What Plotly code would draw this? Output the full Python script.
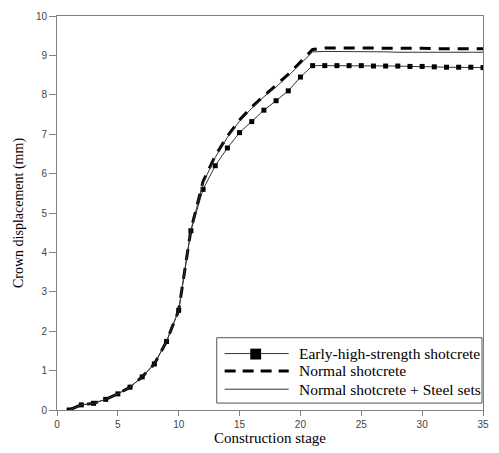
import plotly.graph_objects as go

# Construction stages 1..35
stages = list(range(1, 36))

# Crown displacement (mm) per stage
early_high = [0.00, 0.13, 0.17, 0.27, 0.41, 0.58, 0.84, 1.17, 1.74, 2.53,
              4.55, 5.60, 6.20, 6.65, 7.04, 7.32, 7.61, 7.85, 8.10, 8.45,
              8.74, 8.74, 8.74, 8.74, 8.74, 8.73, 8.73, 8.73, 8.72, 8.72,
              8.71, 8.70, 8.70, 8.70, 8.69]
normal = [0.00, 0.13, 0.17, 0.27, 0.41, 0.58, 0.84, 1.17, 1.74, 2.53,
          4.57, 5.80, 6.45, 6.95, 7.36, 7.69, 7.97, 8.24, 8.52, 8.83,
          9.15, 9.19, 9.19, 9.19, 9.19, 9.19, 9.18, 9.18, 9.18, 9.18,
          9.17, 9.17, 9.17, 9.17, 9.17]
steel_sets = [0.00, 0.13, 0.17, 0.27, 0.41, 0.58, 0.84, 1.17, 1.74, 2.53,
              4.56, 5.76, 6.41, 6.92, 7.33, 7.66, 7.95, 8.20, 8.48, 8.78,
              9.09, 9.10, 9.10, 9.10, 9.10, 9.10, 9.09, 9.08, 9.08, 9.08,
              9.08, 9.08, 9.08, 9.08, 9.08]

series_names = ["Early-high-strength shotcrete", "Normal shotcrete",
                "Normal shotcrete + Steel sets"]

x_ticks = [0, 5, 10, 15, 20, 25, 30, 35]
y_ticks = list(range(0, 11))

serif = "Liberation Serif, Times New Roman, serif"
sans = "Liberation Sans, Arial, sans-serif"
axis_grey = "#808080"

W, H = 499, 453
ML, MR, MT, MB = 57, 10, 13, 42
PW, PH = W - ML - MR, H - MT - MB


def px(xpix):
    """Horizontal pixel position -> paper fraction."""
    return (xpix - ML) / PW


def py(ypix):
    """Vertical pixel position (from top) -> paper fraction."""
    return (H - MB - ypix) / PH


thin = dict(color="#333333", width=1)
dashed = dict(color="black", width=3, dash="11px,8px")

fig = go.Figure()
fig.add_trace(go.Scatter(
    x=stages, y=early_high, name=series_names[0], mode="lines+markers",
    line=thin, marker=dict(symbol="square", size=5, color="black"),
))
fig.add_trace(go.Scatter(
    x=stages, y=normal, name=series_names[1], mode="lines", line=dashed,
))
fig.add_trace(go.Scatter(
    x=stages, y=steel_sets, name=series_names[2], mode="lines", line=thin,
))

# Boxed key in the lower right corner
shapes = [dict(type="rect", xref="paper", yref="paper",
               x0=px(219), x1=px(488), y0=py(404), y1=py(338),
               line=dict(color="#555555", width=1), fillcolor="white",
               layer="above")]
annotations = []
row_y = [354, 371.5, 390]
row_line = [thin, dict(color="black", width=3, dash="11px,7px"), thin]
for i, (name, yrow) in enumerate(zip(series_names, row_y)):
    shapes.append(dict(type="line", xref="paper", yref="paper",
                       x0=px(227), x1=px(292), y0=py(yrow), y1=py(yrow),
                       line=row_line[i], layer="above"))
    annotations.append(dict(xref="paper", yref="paper", x=px(300), y=py(yrow),
                            xanchor="left", yanchor="middle", text=name,
                            showarrow=False,
                            font=dict(family=serif, size=15.5, color="black")))
shapes.append(dict(type="rect", xref="paper", yref="paper",
                   x0=px(253), x1=px(264), y0=py(360), y1=py(349),
                   line=dict(color="black", width=0), fillcolor="black",
                   layer="above"))

fig.update_layout(
    width=W, height=H,
    margin=dict(l=ML, r=MR, t=MT, b=MB),
    paper_bgcolor="white", plot_bgcolor="white",
    showlegend=False,
    shapes=shapes,
    annotations=annotations,
    xaxis=dict(
        range=[0, 35], tickvals=x_ticks, ticks="outside", ticklen=5,
        tickcolor=axis_grey, showline=True, linecolor=axis_grey, linewidth=1,
        mirror=True, showgrid=False, zeroline=False,
        tickfont=dict(family=sans, size=10, color="#444444"),
        title=dict(text="Construction stage",
                   font=dict(family=serif, size=15, color="black"), standoff=2),
    ),
    yaxis=dict(
        range=[0, 10], tickvals=y_ticks, ticks="outside", ticklen=7,
        tickcolor=axis_grey, showline=True, linecolor=axis_grey, linewidth=1,
        mirror=True, showgrid=False, zeroline=False,
        tickfont=dict(family=sans, size=10, color="#444444"),
        title=dict(text="Crown displacement (mm)",
                   font=dict(family=serif, size=14, color="black"), standoff=8),
    ),
)

fig.write_html("out.html")
